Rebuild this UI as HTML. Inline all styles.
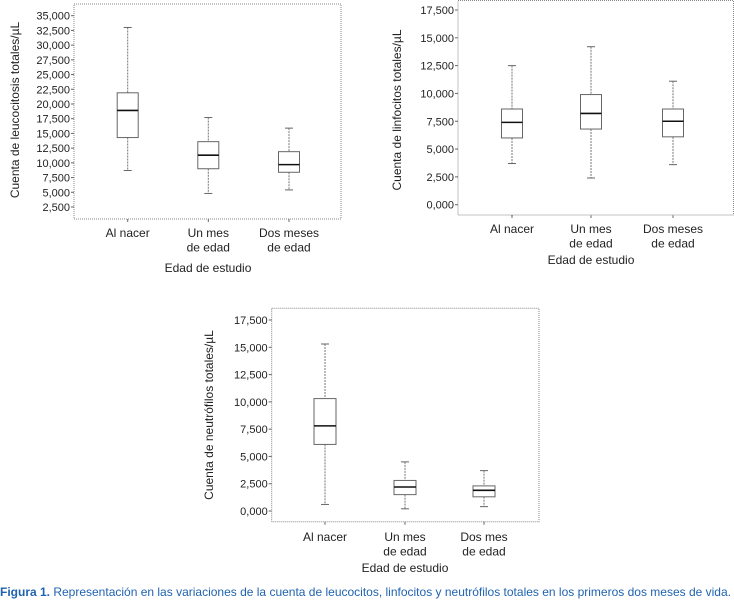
<!DOCTYPE html>
<html><head><meta charset="utf-8"><style>
html,body{margin:0;padding:0;background:#fff;}
svg{display:block;font-family:"Liberation Sans",Arial,sans-serif;}
</style></head><body>
<svg id="fig" width="734" height="606" viewBox="0 0 734 606" xmlns="http://www.w3.org/2000/svg">
<text x="0" y="596" font-size="12" fill="#1f63b0" textLength="731" lengthAdjust="spacingAndGlyphs"><tspan font-weight="bold">Figura 1.</tspan> Representación en las variaciones de la cuenta de leucocitos, linfocitos y neutrófilos totales en los primeros dos meses de vida.</text>
</svg>
<script>
// Chart 1: leucocitos
const cats1 = [["Al nacer"],["Un mes","de edad"],["Dos meses","de edad"]];
const min1 = [8700, 4800, 5400];
const q1_1 = [14300, 9000, 8400];
const med1 = [18900, 11300, 9700];
const q3_1 = [21900, 13600, 11900];
const max1 = [33000, 17700, 15900];
const ticks1 = [2500,5000,7500,10000,12500,15000,17500,20000,22500,25000,27500,30000,32500,35000];
const tickLabels1 = ["2,500","5,000","7,500","10,000","12,500","15,000","17,500","20,000","22,500","25,000","27,500","30,000","32,500","35,000"];
// Chart 2: linfocitos
const cats2 = [["Al nacer"],["Un mes","de edad"],["Dos meses","de edad"]];
const min2 = [3700, 2400, 3600];
const q1_2 = [6000, 6800, 6100];
const med2 = [7400, 8200, 7500];
const q3_2 = [8600, 9900, 8600];
const max2 = [12500, 14200, 11100];
const ticks2 = [0,2500,5000,7500,10000,12500,15000,17500];
const tickLabels2 = ["0,000","2,500","5,000","7,500","10,000","12,500","15,000","17,500"];
// Chart 3: neutrófilos
const cats3 = [["Al nacer"],["Un mes","de edad"],["Dos mes","de edad"]];
const min3 = [600, 200, 400];
const q1_3 = [6100, 1500, 1300];
const med3 = [7800, 2200, 1900];
const q3_3 = [10300, 2800, 2300];
const max3 = [15300, 4500, 3700];
const ticks3 = [0,2500,5000,7500,10000,12500,15000,17500];
const tickLabels3 = ["0,000","2,500","5,000","7,500","10,000","12,500","15,000","17,500"];

const NS="http://www.w3.org/2000/svg";
const svg=document.getElementById('fig');
function mk(tag,attrs,parent){const e=document.createElementNS(NS,tag);for(const k in attrs)e.setAttribute(k,attrs[k]);(parent||svg).appendChild(e);return e;}

function chart(id,cfg,cats,mn,q1,md,q3,mx,ticks,labels,ytitle){
  const g=mk('g',{});
  
  
  const y=v=>cfg.y0+(v-cfg.v0)*(cfg.y1-cfg.y0)/(cfg.v1-cfg.v0);
  const frame=mk('rect',{x:cfg.fx0,y:cfg.fy0,width:cfg.fx1-cfg.fx0,height:cfg.fy1-cfg.fy0,fill:'none',stroke:'#888','stroke-width':1,'stroke-dasharray':'1 1'},g);
  
  
  ticks.forEach((t,i)=>{
    const yy=y(t);
    mk('line',{x1:cfg.fx0-3,x2:cfg.fx0,y1:yy,y2:yy,stroke:'#666'},g);
    const tx=mk('text',{x:cfg.fx0-4,y:yy+4,'font-size':11,'text-anchor':'end',fill:'#222'},g);
    tx.textContent=labels[i];
    
    
  });
  cats.forEach((c,i)=>{
    const cx=cfg.cx[i], w=cfg.bw/2;
    mk('line',{x1:cx,x2:cx,y1:cfg.fy1,y2:cfg.fy1+3,stroke:'#666'},g);
    c.forEach((ln,j)=>{
      const tx=mk('text',{x:cx,y:cfg.ly+j*14.5,'font-size':12,'text-anchor':'middle',fill:'#222'},g);
      tx.textContent=ln;
      
      
    });
    const b=mk('g',{},g);
    
    
    mk('line',{x1:cx,x2:cx,y1:y(mx[i]),y2:y(q3[i]),stroke:'#777','stroke-dasharray':'2 1'},b);
    mk('line',{x1:cx,x2:cx,y1:y(q1[i]),y2:y(mn[i]),stroke:'#777','stroke-dasharray':'2 1'},b);
    mk('line',{x1:cx-4,x2:cx+4,y1:y(mx[i]),y2:y(mx[i]),stroke:'#666'},b);
    mk('line',{x1:cx-4,x2:cx+4,y1:y(mn[i]),y2:y(mn[i]),stroke:'#666'},b);
    mk('rect',{x:cx-w,y:y(q3[i]),width:2*w,height:y(q1[i])-y(q3[i]),fill:'none',stroke:'#666'},b);
    mk('line',{x1:cx-w,x2:cx+w,y1:y(md[i]),y2:y(md[i]),stroke:'#111','stroke-width':1.6},b);
  });
  const xt=mk('text',{x:cfg.xtx,y:cfg.xty,'font-size':12,'text-anchor':'middle',fill:'#222'},g);
  xt.textContent='Edad de estudio';
  
  
  const yt=mk('text',{x:0,y:0,'font-size':12,'text-anchor':'middle',fill:'#222',transform:`translate(${cfg.ytx},${cfg.yty}) rotate(-90)`},g);
  yt.textContent=ytitle;
  
  
}
chart('chart-leucocitos',{fx0:74,fx1:341,fy0:4,fy1:219,v0:2500,y0:207,v1:35000,y1:15.7,cx:[127.7,208.3,289],bw:21,ly:237,xtx:208,xty:272,ytx:19,yty:110},
  cats1,min1,q1_1,med1,q3_1,max1,ticks1,tickLabels1,'Cuenta de leucocitosis totales/µL');
chart('chart-linfocitos',{fx0:458,fx1:733.5,fy0:0.5,fy1:215,v0:0,y0:204.7,v1:17500,y1:10,cx:[512,591,673],bw:21,ly:233,xtx:591,xty:264,ytx:401,yty:110},
  cats2,min2,q1_2,med2,q3_2,max2,ticks2,tickLabels2,'Cuenta de linfocitos totales/µL');
chart('chart-neutrofilos',{fx0:271.7,fx1:539,fy0:308.3,fy1:521.7,v0:0,y0:511,v1:17500,y1:320,cx:[325,405,484],bw:22,ly:541,xtx:405,xty:572,ytx:213,yty:415},
  cats3,min3,q1_3,med3,q3_3,max3,ticks3,tickLabels3,'Cuenta de neutrófilos totales/µL');
</script>
</body></html>
